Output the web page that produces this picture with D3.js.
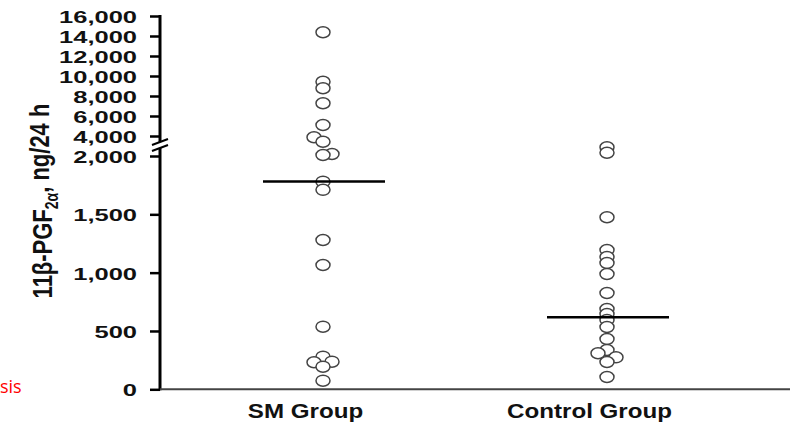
<!DOCTYPE html>
<html>
<head>
<meta charset="utf-8">
<script src="https://d3js.org/d3.v7.min.js"></script>
<style>
  body { margin: 0; background: #fff; }
  text { font-family: "Liberation Sans", Arial, sans-serif; }
</style>
</head>
<body>
<div id="chart"></div>
<script>
// groups and values (ng/24 h)
const groups = ['SM Group', 'Control Group'];
const smValues = [14370, 9430, 8770, 7270, 5100, 3870, 3430, 2200, 2100, 1780, 1710, 1280, 1065, 537, 280, 237, 232, 194, 74];
const smCols = [0, 0, 0, 0, 0, -1, 0, 1, 0, 0, 0, 0, 0, 0, 0, 1, -1, 0, 0];
const ctrlValues = [2870, 2330, 1475, 1194, 1134, 1083, 988, 826, 688, 645, 594, 534, 431, 337, 309, 274, 234, 106];
const ctrlCols = [0, 0, 0, 0, 0, 0, 0, 0, 0, 0, 0, 0, 0, 0, -1, 1, 0, 0];
const medians = [1781, 617];
const yTicks = [0, 500, 1000, 1500, 2000, 4000, 6000, 8000, 10000, 12000, 14000, 16000];

const width = 802, height = 425;
const svg = d3.select('#chart').append('svg')
    .attr('width', width)
    .attr('height', height)
    .attr('xmlns', 'http://www.w3.org/2000/svg');

// broken axis: 0-2000 stretched, 2000-16000 compressed
const y = d3.scaleLinear()
    .domain([0, 2000, 16000])
    .range([389.3, 156, 16]);

const x = d3.scalePoint()
    .domain(groups)
    .range([323, 607]);

const axisX = 160;

// y axis
const yAxis = svg.append('g')
    .attr('transform', `translate(${axisX},0)`)
    .call(d3.axisLeft(y).tickValues(yTicks).tickSize(10).tickFormat(d3.format(',')));
yAxis.select('.domain').remove();
yAxis.selectAll('.tick line').attr('stroke', '#000').attr('stroke-width', 2.5);
yAxis.selectAll('.tick text')
    .attr('x', null)
    .attr('dy', '0.38em')
    .attr('transform', 'translate(-23,0) scale(1.5,1)')
    .style('font-size', '17px')
    .style('font-weight', 'bold')
    .attr('fill', '#111');

// axis line with gap for the break
svg.append('line')
    .attr('x1', axisX).attr('x2', axisX)
    .attr('y1', y(16000) - 1).attr('y2', 142)
    .attr('stroke', '#000').attr('stroke-width', 3);
svg.append('line')
    .attr('x1', axisX).attr('x2', axisX)
    .attr('y1', 148).attr('y2', y(0) + 1)
    .attr('stroke', '#000').attr('stroke-width', 3);
// break marks
[142, 148].forEach(by => {
    svg.append('line')
        .attr('x1', axisX - 8).attr('y1', by + 3)
        .attr('x2', axisX + 8).attr('y2', by - 3)
        .attr('stroke', '#000').attr('stroke-width', 2);
});

// x axis
svg.append('line')
    .attr('x1', axisX).attr('x2', 790)
    .attr('y1', y(0)).attr('y2', y(0))
    .attr('stroke', '#444').attr('stroke-width', 2);

const xAxis = svg.append('g')
    .attr('transform', `translate(0,${y(0)})`)
    .call(d3.axisBottom(x).tickSize(0).tickPadding(0));
xAxis.select('.domain').remove();
xAxis.selectAll('.tick text')
    .attr('y', null).attr('dy', null)
    .attr('transform', 'translate(-18,29) scale(1.15,1)')
    .style('font-size', '21px')
    .style('font-weight', 'bold')
    .attr('fill', '#111');

// y axis title
const title = svg.append('text')
    .attr('transform', 'translate(52,201) scale(1.25,1) rotate(-90)')
    .attr('text-anchor', 'middle')
    .style('font-size', '22px')
    .style('font-weight', 'bold')
    .attr('fill', '#111');
title.append('tspan').text('11β-PGF');
title.append('tspan').attr('dy', '0.35em').style('font-size', '14px').text('2α');
title.append('tspan').attr('dy', '-0.35em').text(', ng/24 h');

// points
const pts = [];
smValues.forEach((v, i) => pts.push({ g: groups[0], v, c: smCols[i] }));
ctrlValues.forEach((v, i) => pts.push({ g: groups[1], v, c: ctrlCols[i] }));

svg.append('g').selectAll('ellipse')
    .data(pts)
    .enter().append('ellipse')
    .attr('cx', d => x(d.g) + d.c * 9)
    .attr('cy', d => y(d.v))
    .attr('rx', 7)
    .attr('ry', 5.5)
    .attr('fill', '#fff')
    .attr('stroke', '#444')
    .attr('stroke-width', 1.5);

// median lines
svg.append('g').selectAll('line')
    .data(medians)
    .enter().append('line')
    .attr('x1', (d, i) => x(groups[i]) - 60)
    .attr('x2', (d, i) => x(groups[i]) + 62)
    .attr('y1', d => y(d))
    .attr('y2', d => y(d))
    .attr('stroke', '#000')
    .attr('stroke-width', 2.5);

// leftover red caption fragment at the left edge
svg.append('text')
    .attr('x', 0)
    .attr('y', 393)
    .style('font-family', '"Open Sans", sans-serif')
    .style('font-size', '18px')
    .attr('fill', '#f00')
    .text('sis');
</script>
</body>
</html>
